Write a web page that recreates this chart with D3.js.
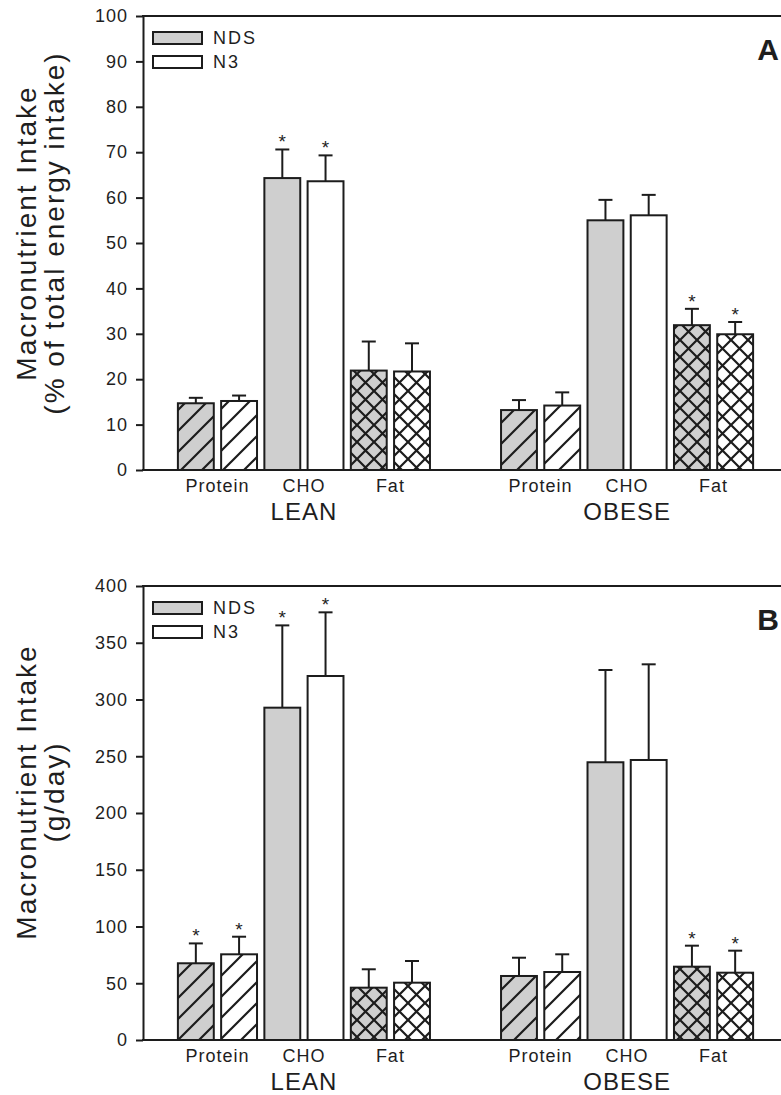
<!DOCTYPE html>
<html lang="en">
<head>
    <meta charset="UTF-8">
    <title>Macronutrient Intake</title>
    <script src="https://d3js.org/d3.v7.min.js"></script>
    <style>
        body { margin: 0; background: #fff; }
        text { font-family: "Liberation Sans", Arial, Helvetica, sans-serif; fill: #1e1e1e; }
    </style>
</head>
<body>
    <script>
        // groups / categories
        const groups = ["LEAN", "OBESE"];
        const nutrients = ["Protein", "CHO", "Fat"];
        const diets = ["NDS", "N3"];

        // panel A: % of total energy intake (order: LEAN P, C, F, OBESE P, C, F)
        const pctNDS = [14.7, 64.3, 21.9, 13.2, 55.0, 31.9];
        const pctNDSErr = [1.2, 6.3, 6.4, 2.2, 4.5, 3.6];
        const pctN3 = [15.2, 63.6, 21.7, 14.2, 56.1, 29.9];
        const pctN3Err = [1.2, 5.7, 6.2, 2.9, 4.5, 2.7];
        const pctSig = [false, true, false, false, false, true];

        // panel B: g/day
        const gNDS = [67.6, 292.8, 46.1, 56.4, 244.7, 64.6];
        const gNDSErr = [17.5, 72.5, 16.2, 16.1, 81.3, 18.5];
        const gN3 = [75.5, 320.7, 50.5, 59.9, 246.7, 59.3];
        const gN3Err = [15.5, 56.1, 19.1, 15.6, 84.3, 19.4];
        const gSig = [true, true, false, false, false, true];

        const pctTicks = d3.range(0, 101, 10);
        const gTicks = d3.range(0, 401, 50);

        const width = 781, height = 1095;
        const left = 143, right = 788;
        const ink = "#1c1c1c", gray = "#cfcfcf";

        const svg = d3.select("body").append("svg")
            .attr("width", width)
            .attr("height", height);

        // fill patterns
        const defs = svg.append("defs");
        function hatch(id, bg) {
            const s = 21;
            const p = defs.append("pattern").attr("id", id)
                .attr("patternUnits", "userSpaceOnUse")
                .attr("width", s).attr("height", s);
            p.append("rect").attr("width", s).attr("height", s).attr("fill", bg);
            p.append("path")
                .attr("d", `M0,${s} L${s},0 M${-s / 2},${s / 2} L${s / 2},${-s / 2} M${s / 2},${s * 1.5} L${s * 1.5},${s / 2}`)
                .attr("stroke", ink).attr("stroke-width", 2.2);
        }
        function cross(id, bg) {
            const s = 17;
            const p = defs.append("pattern").attr("id", id)
                .attr("patternUnits", "userSpaceOnUse")
                .attr("width", s).attr("height", s);
            p.append("rect").attr("width", s).attr("height", s).attr("fill", bg);
            p.append("path")
                .attr("d", `M0,0 L${s},${s} M0,${s} L${s},0`)
                .attr("stroke", ink).attr("stroke-width", 2.2);
        }
        hatch("hatch-NDS", gray);
        hatch("hatch-N3", "#fff");
        cross("cross-NDS", gray);
        cross("cross-N3", "#fff");

        function fillFor(n, d) {
            if (n === "Protein") return `url(#hatch-${d})`;
            if (n === "Fat") return `url(#cross-${d})`;
            return d === "NDS" ? gray : "#fff";
        }

        const x0 = d3.scaleBand().domain(groups)
            .range([left, right]).paddingInner(0.22).paddingOuter(0.108);
        const slots = nutrients.flatMap(n => diets.map(d => n + "|" + d));
        const x1 = d3.scaleBand().domain(slots)
            .range([0, x0.bandwidth()]).paddingInner(0.17).paddingOuter(0);
        const bw = x1.bandwidth();

        function drawPanel(o) {
            const y = d3.scaleLinear().domain([0, o.max]).range([o.bottom, o.top]);
            const g = svg.append("g");

            const rows = [];
            groups.forEach((grp, gi) => {
                nutrients.forEach((n, ni) => {
                    const i = gi * 3 + ni;
                    rows.push({ grp, n, d: "NDS", v: o.nds[i], e: o.ndsErr[i], sig: o.sig[i] });
                    rows.push({ grp, n, d: "N3", v: o.n3[i], e: o.n3Err[i], sig: o.sig[i] });
                });
            });

            const bx = r => x0(r.grp) + x1(r.n + "|" + r.d);

            // error bars (upper only)
            const err = g.append("g").attr("stroke", ink).attr("stroke-width", 2);
            rows.forEach(r => {
                const cx = bx(r) + bw / 2;
                err.append("line").attr("x1", cx).attr("x2", cx)
                    .attr("y1", y(r.v)).attr("y2", y(r.v + r.e));
                err.append("line").attr("x1", cx - 7).attr("x2", cx + 7)
                    .attr("y1", y(r.v + r.e)).attr("y2", y(r.v + r.e));
            });

            g.append("g").selectAll("rect")
                .data(rows)
                .join("rect")
                .attr("x", bx)
                .attr("y", r => y(r.v))
                .attr("width", bw)
                .attr("height", r => y(0) - y(r.v))
                .attr("fill", r => fillFor(r.n, r.d))
                .attr("stroke", ink)
                .attr("stroke-width", 2);

            g.append("g").selectAll("text")
                .data(rows.filter(r => r.sig))
                .join("text")
                .attr("x", r => bx(r) + bw / 2)
                .attr("y", r => y(r.v + r.e) - 1)
                .attr("text-anchor", "middle")
                .attr("font-size", 19)
                .text("*");

            // y axis
            const ax = g.append("g")
                .attr("transform", `translate(${left},0)`)
                .call(d3.axisLeft(y).tickValues(o.ticks).tickSize(7).tickSizeOuter(0).tickPadding(8));
            ax.select(".domain").attr("stroke", ink).attr("stroke-width", 2);
            ax.selectAll(".tick line").attr("stroke", ink).attr("stroke-width", 2);
            ax.selectAll(".tick text")
                .attr("font-size", 18)
                .attr("letter-spacing", 1)
                .attr("fill", "#1e1e1e");

            // frame lines
            g.append("line").attr("x1", left - 1).attr("x2", right)
                .attr("y1", o.top).attr("y2", o.top)
                .attr("stroke", ink).attr("stroke-width", 2);
            g.append("line").attr("x1", left - 1).attr("x2", right)
                .attr("y1", y(0)).attr("y2", y(0))
                .attr("stroke", ink).attr("stroke-width", 2);

            // category + group labels
            groups.forEach(grp => {
                nutrients.forEach(n => {
                    const a = x0(grp) + x1(n + "|NDS");
                    const b = x0(grp) + x1(n + "|N3") + bw;
                    g.append("text")
                        .attr("x", (a + b) / 2)
                        .attr("y", o.bottom + 22)
                        .attr("text-anchor", "middle")
                        .attr("font-size", 18)
                        .attr("letter-spacing", 1)
                        .text(n);
                });
                g.append("text")
                    .attr("x", x0(grp) + x0.bandwidth() / 2)
                    .attr("y", o.groupY)
                    .attr("text-anchor", "middle")
                    .attr("font-size", 24)
                    .attr("letter-spacing", 1)
                    .text(grp);
            });

            // legend
            diets.forEach((d, i) => {
                const ly = o.top + 16 + i * 24;
                g.append("rect")
                    .attr("x", left + 10).attr("y", ly)
                    .attr("width", 49).attr("height", 12)
                    .attr("fill", d === "NDS" ? gray : "#fff")
                    .attr("stroke", ink).attr("stroke-width", 2);
                g.append("text")
                    .attr("x", left + 70).attr("y", ly + 12)
                    .attr("font-size", 18)
                    .attr("letter-spacing", 2)
                    .text(d);
            });

            // y title
            o.title.forEach((t, i) => {
                g.append("text")
                    .attr("transform", `translate(${36 + i * 28},${o.titleY}) rotate(-90)`)
                    .attr("text-anchor", "middle")
                    .attr("font-size", 28)
                    .attr("letter-spacing", 2)
                    .text(t);
            });

            // panel letter
            g.append("text")
                .attr("x", 779).attr("y", o.top + 44)
                .attr("text-anchor", "end")
                .attr("font-size", 30)
                .attr("font-weight", "bold")
                .text(o.letter);
        }

        drawPanel({
            top: 16, bottom: 470, max: 100, ticks: pctTicks,
            nds: pctNDS, ndsErr: pctNDSErr, n3: pctN3, n3Err: pctN3Err, sig: pctSig,
            title: ["Macronutrient Intake", "(% of total energy intake)"], titleY: 233,
            groupY: 520, letter: "A"
        });

        drawPanel({
            top: 586, bottom: 1040, max: 400, ticks: gTicks,
            nds: gNDS, ndsErr: gNDSErr, n3: gN3, n3Err: gN3Err, sig: gSig,
            title: ["Macronutrient Intake", "(g/day)"], titleY: 792,
            groupY: 1090, letter: "B"
        });
    </script>
</body>
</html>
